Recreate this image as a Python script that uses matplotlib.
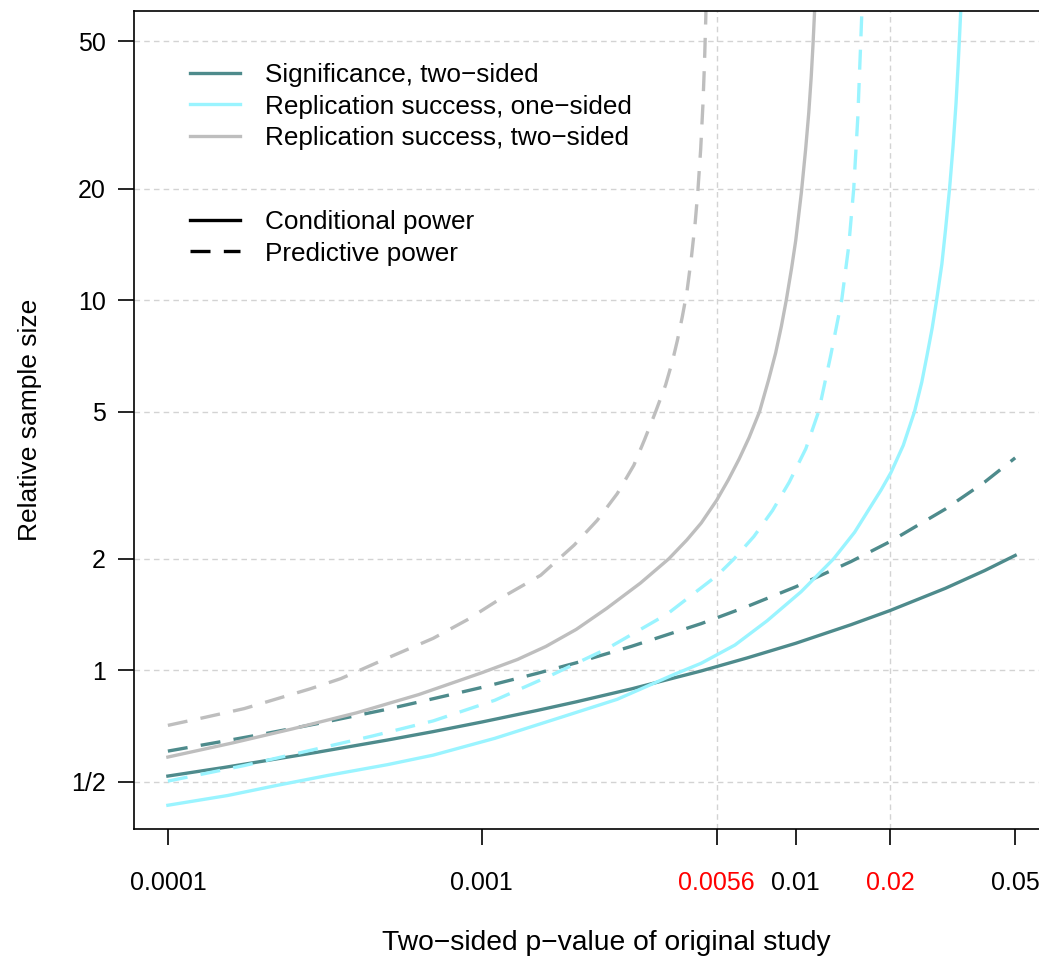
import matplotlib
matplotlib.use("Agg")
import matplotlib.pyplot as plt
from matplotlib.lines import Line2D

plt.rcParams['font.family'] = ['Liberation Sans', 'DejaVu Sans']

# p-values of original study and relative sample sizes
p_sig = [1e-4, 1.5e-4, 2e-4, 3e-4, 5e-4, 7e-4, 1e-3, 1.5e-3, 2e-3, 3e-3, 5e-3, 7e-3,
         1e-2, 1.5e-2, 2e-2, 3e-2, 4e-2, 5e-2]
sig_cond = [0.518, 0.546, 0.568, 0.601, 0.648, 0.683, 0.725, 0.779, 0.822, 0.891, 0.996, 1.080,
            1.183, 1.328, 1.451, 1.666, 1.860, 2.043]
sig_pred = [0.605, 0.643, 0.672, 0.718, 0.785, 0.838, 0.899, 0.981, 1.048, 1.161, 1.337, 1.487,
            1.681, 1.967, 2.228, 2.728, 3.226, 3.748]

p_rs1_cond = [1e-4, 1.55e-4, 2.23e-4, 3.23e-4, 5e-4, 7.0e-4, 1.1e-3, 1.8e-3, 2.7e-3, 4.1e-3, 5.0e-3,
              6.4e-3, 8.1e-3, 1.04e-2, 1.32e-2, 1.54e-2, 1.87e-2, 2.01e-2, 2.2e-2, 2.39e-2,
              2.52e-2, 2.62e-2, 2.72e-2, 2.81e-2, 2.92e-2, 3.0e-2, 3.09e-2, 3.17e-2, 3.24e-2,
              3.29e-2, 3.33e-2, 3.37e-2]
rs1_cond = [0.432, 0.459, 0.489, 0.520, 0.556, 0.59, 0.655, 0.748, 0.835, 0.975, 1.045,
            1.17, 1.36, 1.63, 2.0, 2.36, 3.07, 3.42, 4.05, 5.0,
            6.0, 7.1, 8.4, 10, 12.5, 15.5, 20, 26, 34,
            43, 53, 66]

p_rs1_pred = [1e-4, 1.75e-4, 2.85e-4, 4.5e-4, 7.0e-4, 1.1e-3, 1.66e-3, 2.51e-3, 3.9e-3, 5.63e-3, 6.36e-3,
              7.36e-3, 8.43e-3, 9.53e-3, 1.077e-2, 1.183e-2, 1.293e-2, 1.401e-2, 1.475e-2,
              1.53e-2, 1.576e-2, 1.611e-2, 1.635e-2]
rs1_pred = [0.502, 0.553, 0.608, 0.665, 0.73, 0.83, 0.969, 1.145, 1.42, 1.806, 2.0,
            2.3, 2.7, 3.22, 3.97, 5.0, 7.1, 10, 14,
            20, 31, 50, 70]

p_rs2_cond = [1e-4, 1.6e-4, 2.5e-4, 4e-4, 6.3e-4, 1e-3, 1.3e-3, 1.6e-3, 2.0e-3, 2.5e-3,
              3.2e-3, 3.94e-3, 4.5e-3, 5.0e-3, 5.6e-3, 6.1e-3, 6.6e-3, 7.1e-3, 7.67e-3,
              8.2e-3, 8.63e-3, 9.0e-3, 9.33e-3, 9.7e-3, 1.0e-2, 1.042e-2, 1.075e-2, 1.1e-2,
              1.12e-2, 1.135e-2, 1.15e-2, 1.16e-2]
rs2_cond = [0.583, 0.636, 0.695, 0.768, 0.86, 0.985, 1.07, 1.16, 1.29, 1.47,
            1.72, 2.0, 2.25, 2.5, 2.88, 3.27, 3.72, 4.25, 5.0,
            6.1, 7.2, 8.5, 10, 12.2, 14.5, 19.5, 25.5, 32,
            40, 49, 62, 75]

p_rs2_pred = [1e-4, 1.3e-4, 1.75e-4, 2.85e-4, 3.56e-4, 4.89e-4, 7e-4, 9.0e-4, 1.2e-3, 1.54e-3,
              1.97e-3, 2.33e-3, 2.70e-3, 3.05e-3, 3.3e-3, 3.58e-3, 3.85e-3, 4.05e-3, 4.2e-3,
              4.35e-3, 4.5e-3, 4.65e-3, 4.78e-3, 4.88e-3, 4.98e-3, 5.06e-3, 5.12e-3, 5.17e-3,
              5.22e-3]
rs2_pred = [0.710, 0.745, 0.788, 0.892, 0.950, 1.07, 1.22, 1.37, 1.6, 1.806,
            2.18, 2.54, 3.0, 3.58, 4.2, 5.0, 5.9, 6.85, 7.8,
            9.0, 10.5, 13.0, 16.1, 19.8, 25.6, 33.5, 43.5, 58,
            87]

x_ticks = [1e-4, 1e-3, 0.0056, 0.01, 0.02, 0.05]
x_labels = ["0.0001", "0.001", "0.0056", "0.01", "0.02", "0.05"]
x_red = [0.0056, 0.02]
y_ticks = [0.5, 1, 2, 5, 10, 20, 50]
y_labels = ["1/2", "1", "2", "5", "10", "20", "50"]

teal = "#4E8B8C"
cyan = "#9AF4FF"
grey = "#BEBEBE"
grid_col = "#D3D3D3"

fig = plt.figure(figsize=(10.39, 9.59), dpi=100)
ax = fig.add_axes([0.12897, 0.13556, 0.8807, 0.85297])
ax.set_xscale("log")
ax.set_yscale("log")
ax.set_xlim(7.8e-5, 0.0641)
ax.set_ylim(0.3727, 60.37)

# grid
for y in y_ticks:
    ax.axhline(y, color=grid_col, lw=1.0, dashes=(4, 3), zorder=0)
for x in x_red:
    ax.axvline(x, color=grid_col, lw=1.0, dashes=(4, 3), zorder=0)

lw = 2.4
dash = (6, 4)
ax.plot(p_sig, sig_cond, color=teal, lw=lw)
ax.plot(p_sig, sig_pred, color=teal, lw=lw, dashes=dash)
ax.plot(p_rs1_cond, rs1_cond, color=cyan, lw=lw)
ax.plot(p_rs1_pred, rs1_pred, color=cyan, lw=lw, dashes=dash)
ax.plot(p_rs2_cond, rs2_cond, color=grey, lw=lw)
ax.plot(p_rs2_pred, rs2_pred, color=grey, lw=lw, dashes=dash)

# axes and ticks
ax.spines['right'].set_visible(False)
for s in ['left', 'bottom', 'top']:
    ax.spines[s].set_linewidth(1.2)
ax.minorticks_off()
ax.set_xticks(x_ticks)
ax.set_xticklabels(x_labels)
ax.set_yticks(y_ticks)
ax.set_yticklabels(y_labels)
ax.tick_params(axis='both', length=11.5, width=1.2, labelsize=18)
ax.tick_params(axis='x', pad=19)
ax.tick_params(axis='y', pad=9)
for t, xv in zip(ax.xaxis.get_major_ticks(), x_ticks):
    if xv in x_red:
        t.tick1line.set_color("red")
        t.label1.set_color("red")

ax.set_xlabel("Two\u2212sided p\u2212value of original study", fontsize=20.3, labelpad=25)
ax.xaxis.label.set_x(0.5164)
ax.set_ylabel("Relative sample size", fontsize=19, labelpad=21)

# legends
h1 = [Line2D([], [], color=teal, lw=lw), Line2D([], [], color=cyan, lw=lw),
      Line2D([], [], color=grey, lw=lw)]
l1 = ["Significance, two\u2212sided", "Replication success, one\u2212sided",
      "Replication success, two\u2212sided"]
leg1 = ax.legend(h1, l1, loc="upper left", bbox_to_anchor=(190 / 1039, 1 - 63 / 959),
                 bbox_transform=fig.transFigure, frameon=False, fontsize=18.8,
                 handlelength=1.92, handletextpad=0.96, labelspacing=0.29,
                 borderpad=0, borderaxespad=0)
ax.add_artist(leg1)
h2 = [Line2D([], [], color="black", lw=lw), Line2D([], [], color="black", lw=lw, dashes=dash)]
l2 = ["Conditional power", "Predictive power"]
ax.legend(h2, l2, loc="upper left", bbox_to_anchor=(190 / 1039, 1 - 210 / 959),
          bbox_transform=fig.transFigure, frameon=False, fontsize=18.8,
          handlelength=1.92, handletextpad=0.96, labelspacing=0.29,
          borderpad=0, borderaxespad=0)

fig.savefig("out.png", dpi=100)
